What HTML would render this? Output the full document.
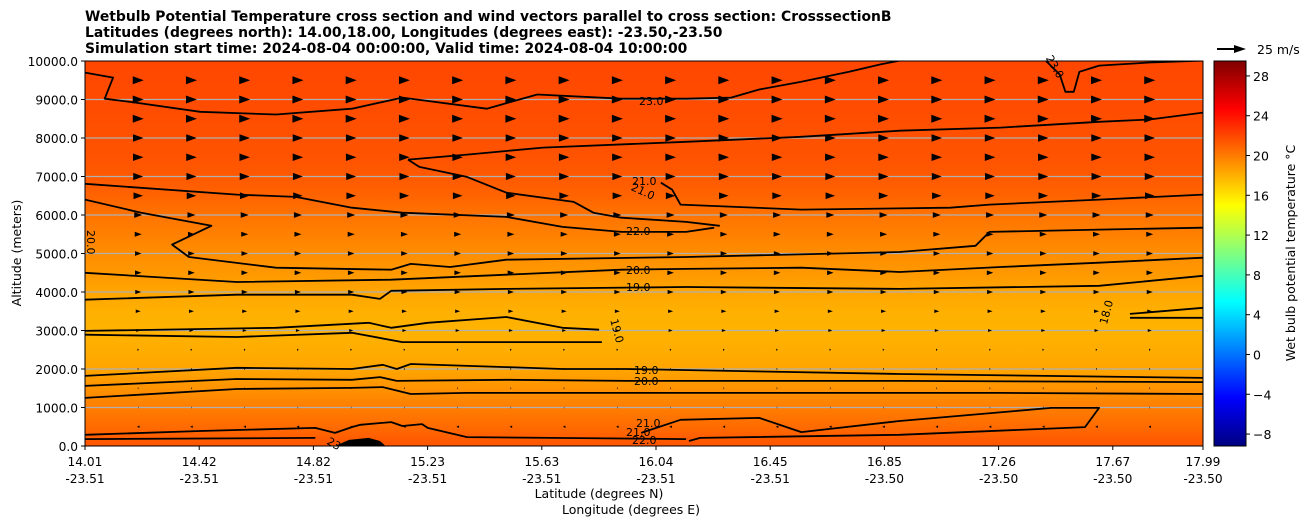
<!DOCTYPE html>
<html><head><meta charset="utf-8">
<style>
body{margin:0;background:#fff;font-family:"Liberation Sans","DejaVu Sans",sans-serif;}
svg text{font-family:"DejaVu Sans","Liberation Sans",sans-serif;}
</style></head>
<body>
<svg id="chart" width="1311" height="526" xmlns="http://www.w3.org/2000/svg">
<g font-size="13.9" font-weight="bold" fill="#000">
<text x="85" y="21">Wetbulb Potential Temperature cross section and wind vectors parallel to cross section: CrosssectionB</text>
<text x="85" y="37">Latitudes (degrees north): 14.00,18.00, Longitudes (degrees east): -23.50,-23.50</text>
<text x="85" y="53">Simulation start time: 2024-08-04 00:00:00, Valid time: 2024-08-04 10:00:00</text>
</g>
<defs>
<linearGradient id="bg" x1="0" y1="1" x2="0" y2="0" gradientUnits="objectBoundingBox"></linearGradient>
<linearGradient id="cbg" x1="0" y1="1" x2="0" y2="0"></linearGradient>
<clipPath id="clip"><rect x="85" y="61" width="1118" height="385"/></clipPath>
</defs>
<rect x="85" y="61" width="1118" height="385" fill="url(#bg)"/>
<g id="grid"></g>
<g id="contours" clip-path="url(#clip)"></g>
<g id="arrows" clip-path="url(#clip)"></g>
<g id="clabels" font-size="11" fill="#000"></g>
<rect x="85" y="61" width="1118" height="385" fill="none" stroke="#000" stroke-width="1"/>
<g id="yaxis" font-size="12.2"></g>
<g id="xaxis" font-size="12.2"></g>
<text font-size="12.5" text-anchor="middle" transform="translate(21,253) rotate(-90)">Altitude (meters)</text>
<text font-size="12.5" text-anchor="middle" x="599" y="498">Latitude (degrees N)</text>
<text font-size="12.5" text-anchor="middle" x="631" y="514">Longitude (degrees E)</text>
<rect x="1214" y="61" width="32" height="385" fill="url(#cbg)" stroke="#000" stroke-width="1"/>
<g id="cbticks" font-size="12.5"></g>
<text font-size="12.5" text-anchor="middle" transform="translate(1295,253) rotate(-90)">Wet bulb potential temperature °C</text>
<g>
<line x1="1217" y1="49" x2="1236" y2="49" stroke="#000" stroke-width="2"/>
<polygon points="1246,49 1234,45 1234,53" fill="#000"/>
<text x="1257" y="54" font-size="12.5">25 m/s</text>
</g>
</svg>
<script>
const NS="http://www.w3.org/2000/svg";
// ---- data ----
const altLevels=[0,500,1000,1500,2000,2500,3000,3500,4000,4500,5000,5500,6000,6500,7000,7500,8000,8500,9000,9500,10000];
const tempProfile=[21.5,20.6,19.9,19.1,18.4,18.1,17.9,18.0,18.4,18.9,19.3,19.8,20.3,20.9,21.3,21.5,21.6,21.7,21.8,21.9,22.0];
const windRows=[500,1000,1500,2000,2500,3000,3500,4000,4500,5000,5500,6000,6500,7000,7500,8000,8500,9000,9500];
const windU=[-2.5,0.5,0.8,1.0,1.5,4,5,6,6.5,6.5,7,8,9.5,10,10.5,10.5,11,11,11];
const yTicks=[0,1000,2000,3000,4000,5000,6000,7000,8000,9000,10000];
const latTicks=["14.01","14.42","14.82","15.23","15.63","16.04","16.45","16.85","17.26","17.67","17.99"];
const lonTicks=["-23.51","-23.51","-23.51","-23.51","-23.51","-23.51","-23.51","-23.50","-23.50","-23.50","-23.50"];
const cbTicks=[-8,-4,0,4,8,12,16,20,24,28];
const contourLat=[
[14.01,14.11,14.08,14.19,14.42,14.69,14.96,15.14,15.44,15.62,15.92,16.15,16.31,16.41,16.56,16.73,16.84,16.91],
[17.43,17.48,17.50,17.53,17.55,17.62,17.80,17.99],
[15.16,15.37,15.64,16.15,16.56,16.91,17.27,17.62,17.80,17.99],
[15.16,15.20,15.37,15.51,15.75,15.82,15.92,16.15,16.27],
[16.06,16.10,16.13,16.56,17.09,17.23,17.62,17.99],
[14.01,14.55,14.76,14.96,15.14,15.51,15.71,15.92,16.15,16.25],
[14.01,14.21,14.46,14.32,14.38,14.69,15.10,15.17,15.31,15.51,16.15,16.91,17.18,17.23,17.62,17.99],
[14.01,14.55,15.10,15.51,15.92,16.15,16.56,16.91,17.27,17.62,17.99],
[14.01,14.55,14.96,15.06,15.10,15.51,16.15,16.91,17.62,17.99],
[14.01,14.69,15.02,15.10,15.23,15.51,15.71,15.84],
[14.01,14.55,14.96,15.14,15.51,15.85],
[17.73,17.99],
[17.73,17.99],
[14.01,14.55,14.96,15.07,15.12,15.17,15.51,15.71,15.94,16.91,17.99],
[14.01,14.55,14.96,15.06,15.12,15.51,15.94,16.91,17.99],
[14.01,14.55,14.96,15.07,15.17,15.37,17.27,17.99],
[14.01,14.42,14.83,14.90,14.96,14.99,15.10,15.14,15.21,15.23,15.37,16.15],
[14.01,14.83],
[15.99,16.13,16.41,16.56,16.91,17.45,17.62,17.57,16.91,16.20,16.16]
];
const contourAlt=[
[9700,9570,9020,8920,8680,8610,8760,9050,8760,9130,9020,9020,9050,9260,9460,9720,9910,10010],
[10010,9650,9200,9200,9720,9880,9960,10010],
[7440,7570,7750,7900,8030,8190,8270,8420,8480,8660],
[7440,7250,6990,6580,6340,6060,5930,5820,5720],
[6840,6660,6270,6140,6190,6270,6400,6530],
[6810,6530,6470,6190,6060,5950,5690,5560,5560,5670],
[6400,6060,5720,5230,4910,4630,4580,4730,4650,4840,4910,5040,5200,5560,5620,5670],
[4500,4260,4320,4450,4580,4600,4630,4520,4650,4760,4890],
[3800,3930,3930,3820,4030,4080,4130,4080,4160,4420],
[2990,3070,3200,3070,3200,3350,3070,3020],
[2890,2830,2940,2700,2700,2700],
[3430,3590],
[3330,3330],
[1820,2030,2000,2110,2000,2130,2050,2000,2000,1870,1770],
[1560,1740,1720,1790,1690,1720,1690,1690,1660],
[1250,1480,1510,1530,1350,1380,1380,1350],
[290,390,470,340,490,550,620,520,570,470,230,180],
[180,210],
[340,680,730,360,650,990,990,490,290,210,130]
];
const terrainLat=[14.90,14.95,15.02,15.06,15.08];
const terrainAlt=[0,160,210,130,0];
// ---- scales ----
const X0=85,X1=1203,Y0=446,Y1=61,LAT0=14.01,LAT1=17.99,ALT1=10000;
const xs=l=>X0+(l-LAT0)/(LAT1-LAT0)*(X1-X0);
const ys=a=>Y0-a/ALT1*(Y0-Y1);
const CMIN=-9.2,CMAX=29.5;
function jet(t){let v=(t-CMIN)/(CMAX-CMIN);v=Math.max(0,Math.min(1,v));
const c=x=>Math.round(255*Math.max(0,Math.min(1,x)));
return `rgb(${c(1.5-Math.abs(4*v-3))},${c(1.5-Math.abs(4*v-2))},${c(1.5-Math.abs(4*v-1))})`;}
function mk(t,p,a){const e=document.createElementNS(NS,t);for(const k in a)e.setAttribute(k,a[k]);p.appendChild(e);return e;}
const bg=document.getElementById('bg');
altLevels.forEach((a,i)=>{mk('stop',bg,{offset:(a/ALT1),'stop-color':jet(tempProfile[i])});});
const cbg=document.getElementById('cbg');
for(let i=0;i<=40;i++){const t=CMIN+(CMAX-CMIN)*i/40;mk('stop',cbg,{offset:i/40,'stop-color':jet(t)});}
const grid=document.getElementById('grid');
yTicks.forEach(a=>{if(a===0||a===ALT1)return;const l=mk('line',grid,{x1:X0,x2:X1,y1:ys(a),y2:ys(a),stroke:'#b0b0b0','stroke-width':1.2});

});
const cg=document.getElementById('contours');
contourLat.forEach((lats,i)=>{const d=lats.map((l,j)=>(j?'L':'M')+xs(l).toFixed(1)+','+ys(contourAlt[i][j]).toFixed(1)).join(' ');
const p=mk('path',cg,{d:d,fill:'none',stroke:'#000','stroke-width':1.8,'stroke-linejoin':'round'});

});
const tp=mk('path',cg,{d:terrainLat.map((l,j)=>(j?'L':'M')+xs(l)+','+ys(terrainAlt[j])).join(' ')+'Z',fill:'#000'});


const ag=document.getElementById('arrows');
const colStep=(X1-X0)/21;
windRows.forEach((a,r)=>{const u=windU[r];for(let j=1;j<=20;j++){const x=X0+j*colStep,y=ys(a);
const L=u*1.0, w=Math.max(1.2,Math.abs(L)*0.36);
const p=mk('polygon',ag,{points:`${x+L/2},${y} ${x-L/2},${y-w} ${x-L/2},${y+w}`,fill:'#000'});

}});
const lab=[["23.0",639,105,0],["21.0",632,185,0],["21.0",632,190,25],["22.0",626,235,0],["20.0",626,274,0],["19.0",626,291,0],["19.0",614,323,75],["19.0",634,374,0],["20.0",634,385,0],["21.0",636,427,0],["21.0",626,436,0],["22.0",632,444,0],["20.0",91,234,90],["18.0",1103,328,-75],["23",328,444,30],["23.0",1049,60,60]];
const lg=document.getElementById('clabels');
lab.forEach(l=>{const t=mk('text',lg,{x:l[1],y:l[2],transform:`rotate(${l[3]} ${l[1]} ${l[2]-4})`});t.textContent=l[0];

});
const ya=document.getElementById('yaxis');
yTicks.forEach(a=>{const y=ys(a);mk('line',ya,{x1:X0-4,x2:X0,y1:y,y2:y,stroke:'#000'});
const t=mk('text',ya,{x:X0-7,y:y+5,'text-anchor':'end'});t.textContent=a.toFixed(1);

});
const xa=document.getElementById('xaxis');
latTicks.forEach((lt,i)=>{const x=i<10?X0+i*114.2:X1;mk('line',xa,{x1:x,x2:x,y1:Y0,y2:Y0+4,stroke:'#000'});
const t=mk('text',xa,{x:x,y:466,'text-anchor':'middle'});t.textContent=lt;


const t2=mk('text',xa,{x:x,y:483,'text-anchor':'middle'});t2.textContent=lonTicks[i];

});
const cb=document.getElementById('cbticks');
cbTicks.forEach(v=>{const y=446-(v-CMIN)/(CMAX-CMIN)*385;mk('line',cb,{x1:1246,x2:1250,y1:y,y2:y,stroke:'#000'});
const t=mk('text',cb,{x:1253,y:y+5});t.textContent=v<0?'\u2212'+Math.abs(v):String(v);

});
</script>
</body></html>
